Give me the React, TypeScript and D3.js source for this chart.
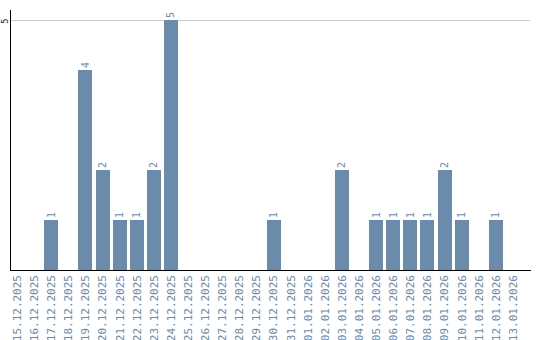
import React from "react";
import * as d3 from "d3";

const dates = [
  "15.12.2025","16.12.2025","17.12.2025","18.12.2025","19.12.2025","20.12.2025",
  "21.12.2025","22.12.2025","23.12.2025","24.12.2025","25.12.2025","26.12.2025",
  "27.12.2025","28.12.2025","29.12.2025","30.12.2025","31.12.2025","01.01.2026",
  "02.01.2026","03.01.2026","04.01.2026","05.01.2026","06.01.2026","07.01.2026",
  "08.01.2026","09.01.2026","10.01.2026","11.01.2026","12.01.2026","13.01.2026",
];
const counts = [0,0,1,0,4,2,1,1,2,5,0,0,0,0,0,1,0,0,0,2,0,1,1,1,1,2,1,0,1,0];
const yTicks = [5];

const W = 540, H = 340;
const left = 10, right = 530, top = 20, bottom = 270;
const barColor = "#6a8bab";
const textColor = "#6a8bab";
const font = "'DejaVu Sans Mono', monospace";

export default function App() {
  const x = d3.scaleBand<string>().domain(dates).range([left, left + 17 * dates.length]).paddingInner(3 / 17).paddingOuter(0).align(0);
  const y = d3.scaleLinear().domain([0, 5]).range([bottom, top]);
  return (
    <svg width={W} height={H} style={{ position: "absolute", left: 0, top: 0, display: "block" }} shapeRendering="crispEdges">
      {yTicks.map((t) => (
        <g key={t}>
          <line x1={left} x2={right} y1={y(t) + 0.5} y2={y(t) + 0.5} stroke="#cccccc" />
          <text transform={`translate(5,${y(t) + 1}) rotate(-90)`} textAnchor="middle" dy="0.35em" fontSize={8} fontFamily={font} fill="#000">{t}</text>
        </g>
      ))}
      {dates.map((d, i) => {
        const v = counts[i];
        const bx = x(d)!;
        const cx = bx + x.bandwidth() / 2;
        return (
          <g key={d}>
            {v > 0 && (
              <>
                <rect x={bx} y={y(v)} width={x.bandwidth()} height={bottom - y(v)} fill={barColor} />
                <text transform={`translate(${cx},${y(v) - 2}) rotate(-90)`} textAnchor="start" dy="0.35em" fontSize={10} fontFamily={font} fill={textColor}>{v}</text>
              </>
            )}
            <text transform={`translate(${cx},275) rotate(-90)`} textAnchor="end" dy="0.35em" fontSize={11} fontFamily={font} fill={textColor}>{d}</text>
          </g>
        );
      })}
      <line x1={left + 0.5} x2={left + 0.5} y1={10} y2={bottom} stroke="#000" />
      <line x1={left} x2={right + 1} y1={bottom + 0.5} y2={bottom + 0.5} stroke="#000" />
    </svg>
  );
}
